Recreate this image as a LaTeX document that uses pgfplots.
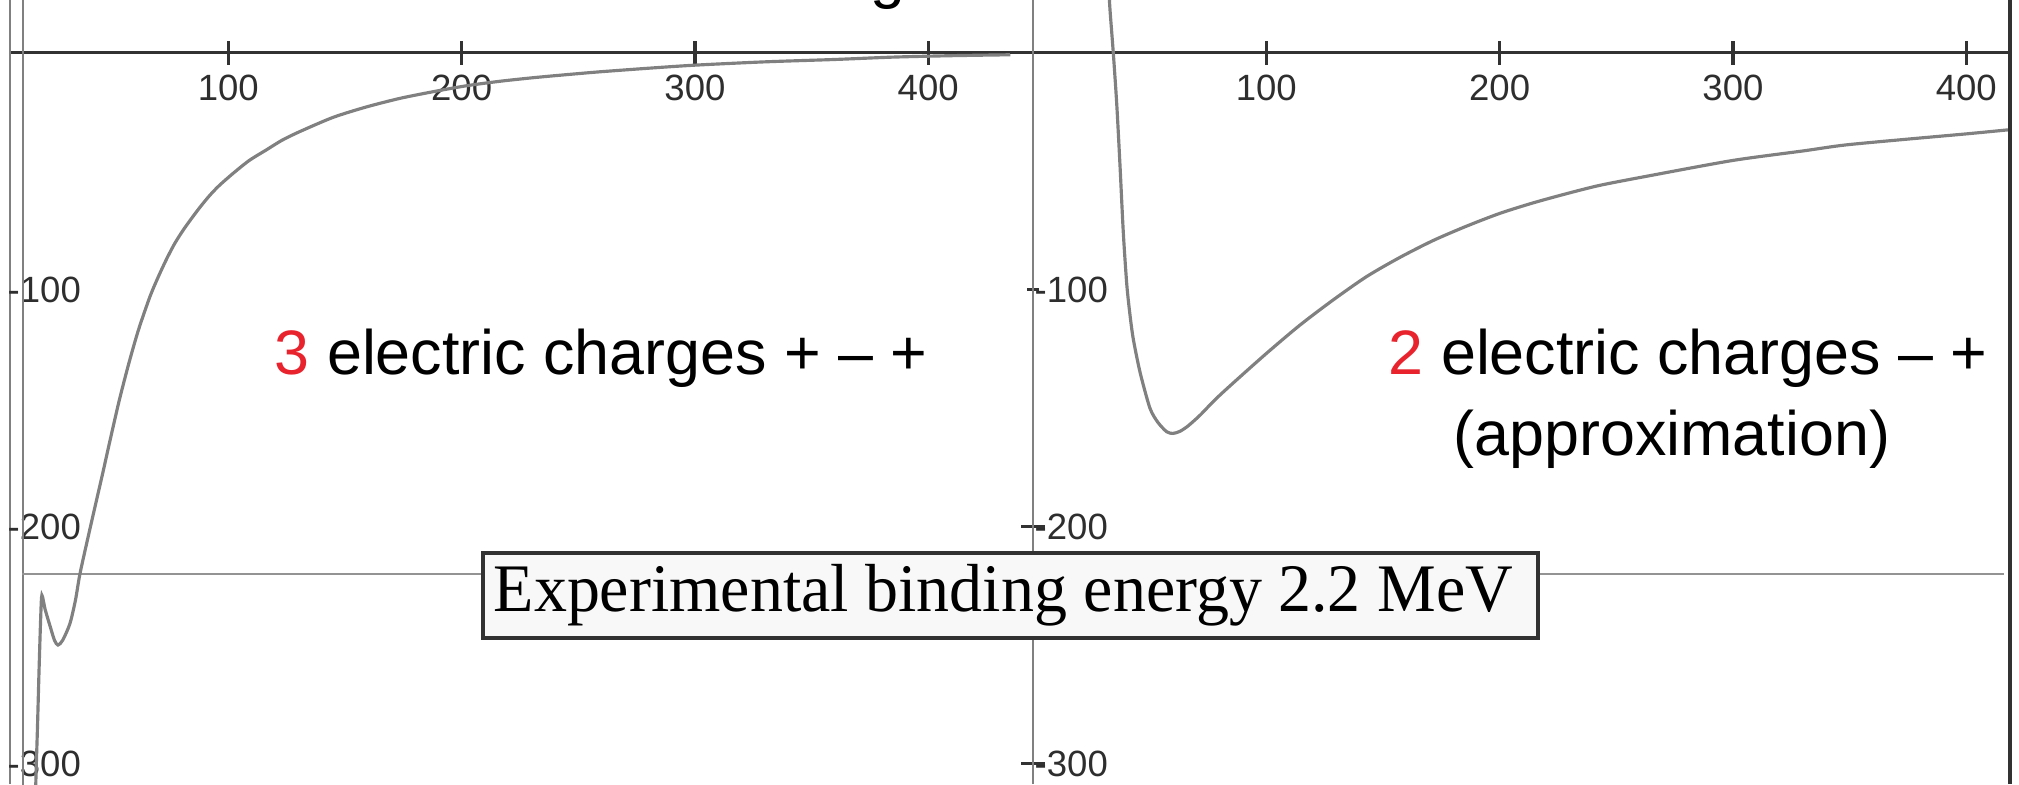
\documentclass[border=0pt]{standalone}
\usepackage{pgfplots}
\pgfplotsset{compat=1.18}
\usepackage{fontspec}
\setmainfont{Liberation Sans}
\newfontfamily\serifface{Liberation Serif}
\definecolor{curve}{RGB}{128,128,128}
\definecolor{axdark}{RGB}{50,50,50}
\definecolor{chred}{RGB}{232,35,45}
\definecolor{boxfill}{RGB}{248,248,248}

\pgfplotsset{
  panel/.style={
    x=0.023333cm, y=0.0237cm,
    anchor=south west,
    ymin=-308.65, ymax=22.15,
    axis x line=middle,
    x axis line style={draw=axdark, line width=1pt, -},
    xtick={100,200,300,400},
    xticklabels={100,200,300,400},
    ytick={-300,-200,-100},
    yticklabels={-300,-200,-100},
    tick align=center,
    major tick length=0.24cm,
    xtick style={draw=axdark, line width=0.9pt},
    tick label style={font=\fontsize{10.4}{11}\selectfont, text=black!82, inner sep=0pt},
    xticklabel style={anchor=north, yshift=-0.10cm},
    yticklabel pos=right,
    clip=true,
  },
  potential/.style={draw=curve, line width=0.9pt, no markers, smooth, tension=0.45},
  expline/.style={draw=curve!85, line width=0.7pt, no markers},
}

\begin{document}
\begin{tikzpicture}
\useasboundingbox (0,0) rectangle (20.19,7.84);
\clip (0,0) rectangle (20.19,7.84);

% ---------- left panel: 3 electric charges ----------
\begin{axis}[panel, at={(0.10cm,0cm)},
  xmin=6.43, xmax=435.2,
  axis y line=left,
  y axis line style={draw=curve, line width=0.8pt, -},
  ytick style={draw=none},
  yticklabel style={anchor=west, xshift=0.09cm},
]
\addplot[draw=curve, line width=0.6pt] coordinates {(12,-320) (12,30)};
\addplot[expline] coordinates {(11.6,-220) (435.2,-220)};
\addplot[potential] coordinates {
(17.2,-330) (17.5,-308) (18.2,-285) (18.9,-260) (19.6,-238) (20.1,-229)
(21.5,-235) (23.6,-242) (25.5,-248) (27,-250) (29,-248) (32.1,-241)
(34.5,-231) (36.4,-220) (40,-204) (43.6,-188.5) (46.4,-176.5) (49,-165)
(53.2,-147) (57.4,-131) (61.5,-117) (66.4,-103) (70,-94.6) (73.6,-87)
(77,-80.6) (80.6,-75) (84,-70.3) (87.9,-65.2) (92,-60.3) (96,-56.2)
(102,-51) (109,-45.5) (116.4,-41) (123,-37) (130.7,-33.3) (145,-27.3)
(159.3,-22.9) (173.6,-19.3) (187.8,-16.5) (202,-14) (216.4,-12.1)
(230.6,-10.6) (245,-9.3) (259.3,-8.1) (280,-6.6) (300,-5.3) (330,-3.9)
(360,-2.9) (385,-1.9) (410,-1.3) (436,-0.9)
};
\end{axis}

% ---------- right panel: 2 electric charges ----------
\begin{axis}[panel, at={(10.10cm,0cm)},
  xmin=-9.86, xmax=418.8,
  axis y line=middle,
  y axis line style={draw=curve, line width=0.6pt, -},
  ytick style={draw=axdark, line width=0.7pt, shorten <=0.06cm, shorten >=0.06cm},
  yticklabel style={anchor=west, xshift=0.13cm},
]
\addplot[expline] coordinates {(-9.86,-220) (416,-220)};
\addplot[potential] coordinates {
(32.3,30) (33,18) (34.4,0) (35.9,-22) (37.3,-48) (38.7,-76) (40.2,-98)
(41.6,-111) (43,-121) (45.9,-135) (50.1,-150) (53.5,-156) (57.3,-160)
(60,-160.7) (63,-159.8) (66.5,-157.5) (71.6,-153) (78,-146.5) (85.7,-139.5)
(100.2,-126.8) (114.4,-115) (128.6,-104.4) (143,-94.5) (157.3,-86.4)
(171.5,-79.3) (185.9,-73.2) (200.2,-67.8) (214.4,-63.4) (228.8,-59.5)
(243,-56) (264,-52) (300,-45.5) (330,-41.5) (348,-39) (375,-36.5)
(400,-34.3) (420,-32.4)
};
\end{axis}

% right frame line
\draw[axdark, line width=1.1pt] (20.10,0) -- (20.10,7.84);

% cut-off title glyph
\node[anchor=base west, inner sep=0pt, font=\fontsize{17.87}{20}\selectfont] at (8.70,7.88) {g};

% annotations
\node[anchor=base west, inner sep=0pt, font=\fontsize{17.87}{20}\selectfont] at (2.74,4.10)
  {\textcolor{chred}{3} electric charges + – +};
\node[anchor=base west, inner sep=0pt, font=\fontsize{17.87}{20}\selectfont] at (13.88,4.10)
  {\textcolor{chred}{2} electric charges – +};
\node[anchor=base west, inner sep=0pt, font=\fontsize{17.87}{20}\selectfont] at (14.53,3.29)
  {(approximation)};

% experimental binding energy box
\draw[axdark, line width=1pt, fill=boxfill] (4.83,1.46) rectangle (15.38,2.31);
\node[anchor=base west, inner sep=0pt] at (4.93,1.73)
  {\scalebox{0.97}[1]{\serifface\fontsize{19.35}{21}\selectfont Experimental binding energy 2.2 MeV}};
\end{tikzpicture}
\end{document}
